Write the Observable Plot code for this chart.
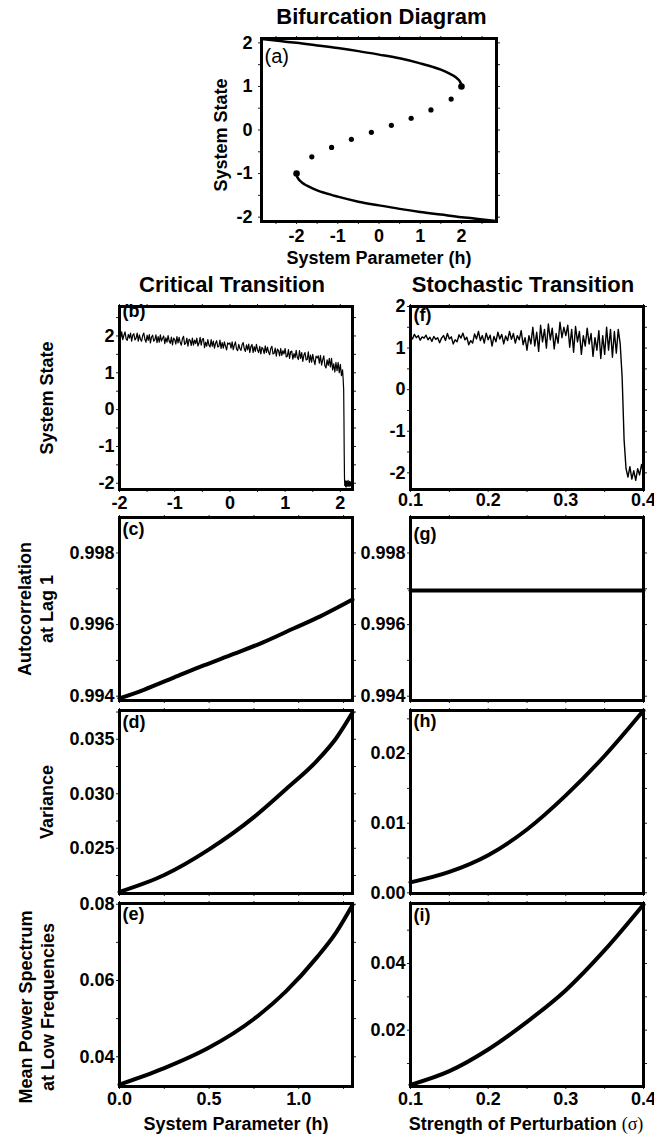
<!DOCTYPE html>
<html>
<head>
<meta charset="utf-8">
<script src="https://cdn.jsdelivr.net/npm/d3@7"></script>
<script src="https://cdn.jsdelivr.net/npm/@observablehq/plot@0.6"></script>
<style>
  body { margin: 0; background: #fff; }
  #root { position: relative; width: 654px; height: 1137px; overflow: hidden; background: #fff;
          font-family: "Liberation Sans", Arial, sans-serif; font-weight: bold; color: #000; }
  .t { position: absolute; white-space: nowrap; line-height: 1; transform: translate(-50%, -50%); }
  .r { position: absolute; white-space: nowrap; text-align: center; line-height: 22px;
       transform: translate(-50%, -50%) rotate(-90deg); }
  .plotbox { position: absolute; }
  .plotbox svg { max-width: none !important; display: block; }
</style>
</head>
<body>
<div id="root"></div>
<script>
// ---------------- DATA ----------------
// (a) bifurcation diagram: system parameter h vs system state
const aUpperH = [-2.85, -2.4, -2.0, -1.5, -1.0, -0.5, 0, 0.5, 1.0, 1.3, 1.5, 1.7, 1.8, 1.9, 1.97, 1.99, 2.0];
const aUpperS = [2.09, 2.04, 2.0, 1.94, 1.88, 1.81, 1.73, 1.645, 1.53, 1.45, 1.385, 1.30, 1.25, 1.18, 1.10, 1.06, 1.0];
const aLowerH = [-2.0, -1.99, -1.97, -1.9, -1.8, -1.7, -1.5, -1.3, -1.0, -0.5, 0, 0.5, 1.0, 1.5, 2.0, 2.4, 2.85];
const aLowerS = [-1.0, -1.06, -1.10, -1.18, -1.25, -1.30, -1.385, -1.45, -1.53, -1.645, -1.73, -1.81, -1.88, -1.94, -2.0, -2.04, -2.09];
const aMidH = [-1.63, -1.15, -0.67, -0.185, 0.30, 0.78, 1.26, 1.75];
const aMidS = [-0.615, -0.40, -0.215, -0.054, 0.108, 0.27, 0.46, 0.71];

// (b) critical transition time series (sampled every 0.02 in h from -2)
const bStartH = -2, bStepH = 0.02;
const bState = [
  2.08,1.94,2.11,1.90,2.02,2.11,1.92,1.88,2.04,1.94,
  2.08,1.86,2.02,2.06,1.89,1.94,2.08,1.86,2.03,1.91,
  1.86,2.01,2.08,1.91,1.83,2.02,1.88,2.04,1.81,1.97,
  2.02,1.86,1.90,2.03,1.82,1.98,1.83,2.03,1.86,1.94,
  2.00,1.79,1.95,1.83,2.01,1.86,1.80,1.97,1.76,1.94,
  1.90,1.78,1.98,1.81,1.96,1.82,1.75,1.93,1.99,1.77,
  1.80,1.94,1.72,1.91,1.88,1.74,1.94,1.75,1.89,1.79,
  1.94,1.73,1.80,1.96,1.75,1.91,1.93,1.68,1.83,1.72,
  1.90,1.75,1.70,1.90,1.72,1.86,1.67,1.80,1.87,1.70,
  1.72,1.89,1.66,1.82,1.67,1.84,1.72,1.62,1.81,1.78,
  1.81,1.67,1.84,1.63,1.75,1.84,1.64,1.60,1.77,1.66,
  1.61,1.76,1.82,1.65,1.58,1.76,1.62,1.78,1.55,1.71,
  1.77,1.55,1.71,1.58,1.77,1.62,1.55,1.72,1.51,1.69,
  1.65,1.52,1.73,1.55,1.70,1.56,1.49,1.66,1.72,1.51,
  1.53,1.67,1.45,1.64,1.60,1.46,1.66,1.47,1.60,1.51,
  1.66,1.43,1.45,1.63,1.39,1.57,1.59,1.37,1.52,1.41,
  1.61,1.42,1.36,1.60,1.39,1.55,1.31,1.48,1.55,1.35,
  1.36,1.57,1.28,1.48,1.29,1.50,1.34,1.22,1.45,1.40,
  1.46,1.26,1.47,1.21,1.35,1.46,1.19,1.13,1.35,1.20,
  1.39,1.16,1.39,1.08,1.24,1.02,1.28,1.06,1.28,1.00,
  1.23,0.92,1.08
];
const bTailH = [2.05, 2.06, 2.065, 2.07, 2.075, 2.08, 2.087, 2.094, 2.10, 2.107, 2.114, 2.12, 2.127, 2.134, 2.14, 2.147, 2.154, 2.16, 2.167, 2.174, 2.18, 2.187, 2.194, 2.20, 2.207, 2.214, 2.22];
const bTailS = [0.85, 0.55, -0.20, -1.20, -1.85, -2.06, -1.93, -2.09, -1.96, -2.10, -1.94, -2.05, -1.97, -2.08, -1.92, -2.06, -1.99, -2.09, -1.95, -2.04, -1.96, -2.07, -1.98, -2.05, -1.95, -2.03, -1.99];

// (f) stochastic transition time series (sampled every 0.0025 in sigma from 0.1)
const fStart = 0.1, fStep = 0.0025;
const fState = [
  1.28,1.22,1.33,1.25,1.30,1.19,1.27,1.24,1.31,1.20,
  1.26,1.16,1.28,1.21,1.25,1.13,1.24,1.30,1.18,1.35,
  1.22,1.27,1.10,1.20,1.15,1.32,1.24,1.36,1.20,1.26,
  1.08,1.18,1.12,1.34,1.22,1.40,1.18,1.30,1.12,1.36,
  1.20,1.31,1.05,1.28,1.15,1.38,1.22,1.33,1.10,1.29,
  1.18,1.40,1.21,1.35,1.12,1.30,1.20,1.42,1.08,1.25,
  0.95,1.30,1.10,1.50,1.05,1.38,0.92,1.55,1.15,1.45,
  1.00,1.58,1.20,1.48,0.98,1.35,1.12,1.62,1.25,1.50,
  1.30,1.55,1.02,1.45,0.90,1.52,1.15,1.40,0.85,1.30,
  1.05,1.48,1.10,1.35,0.80,1.25,0.95,1.42,0.75,1.30,
  0.85,1.50,0.95,1.45,0.78,1.40,0.88,1.45,1.10,0.30,
  -1.20,-1.90,-2.10,-1.85,-2.15,-1.95,-2.18,-1.90,-2.05,-1.80,
  -2.00
];

// (c)(d)(e) indicators vs system parameter h
const cH = [0, 0.136, 0.303, 0.470, 0.637, 0.804, 0.971, 1.12, 1.3];
const cAC = [0.99394, 0.99418, 0.99452, 0.99486, 0.99518, 0.99551, 0.99589, 0.99623, 0.99670];
const dH = [0, 0.25, 0.5, 0.75, 0.93, 1.1, 1.21, 1.3];
const dVar = [0.0210, 0.02255, 0.0249, 0.02786, 0.03044, 0.0330, 0.03512, 0.03745];
const eH = [0, 0.25, 0.5, 0.75, 0.93, 1.1, 1.21, 1.3];
const ePow = [0.0327, 0.0370, 0.0424, 0.0499, 0.0572, 0.0660, 0.0727, 0.0798];

// (g)(h)(i) indicators vs strength of perturbation sigma
const gSigma = [0.1, 0.4];
const gAC = [0.99695, 0.99695];
const hSigma = [0.1, 0.15, 0.2, 0.25, 0.3, 0.35, 0.4];
const hVar = [0.0015, 0.0030, 0.0054, 0.0091, 0.0140, 0.0197, 0.0262];
const iSigma = [0.1, 0.15, 0.2, 0.25, 0.3, 0.35, 0.4];
const iPow = [0.0036, 0.0077, 0.0142, 0.0225, 0.0320, 0.0440, 0.0577];

// tick values
const ticksInt = [-2, -1, 0, 1, 2];
const minorHalfA = [-2.5, -2, -1.5, -1, -0.5, 0, 0.5, 1, 1.5, 2, 2.5];
const minorHalfS = [-2, -1.5, -1, -0.5, 0, 0.5, 1, 1.5, 2];
const minorHalfB = [-2, -1.5, -1, -0.5, 0, 0.5, 1, 1.5, 2, 2.5];
const ticksSigma = [0.1, 0.2, 0.3, 0.4];
const minorSigma = [0.1, 0.15, 0.2, 0.25, 0.3, 0.35, 0.4];
const ticksH = [0, 0.5, 1.0];
const minorH = [0, 0.25, 0.5, 0.75, 1.0, 1.25];
const ticksAC = [0.994, 0.996, 0.998];
const minorAC = [0.994, 0.995, 0.996, 0.997, 0.998];
const ticksVarC = [0.025, 0.030, 0.035];
const minorVarC = [0.0225, 0.025, 0.0275, 0.030, 0.0325, 0.035, 0.0375];
const ticksPowC = [0.04, 0.06, 0.08];
const minorPowC = [0.04, 0.05, 0.06, 0.07, 0.08];
const ticksVarS = [0.00, 0.01, 0.02];
const minorVarS = [0, 0.005, 0.01, 0.015, 0.02, 0.025];
const ticksPowS = [0.02, 0.04];
const minorPowS = [0.01, 0.02, 0.03, 0.04, 0.05];

// ---------------- DRAWING ----------------
const root = document.getElementById("root");
const FONT = '"Liberation Sans", Arial, sans-serif';
const zip = (xs, ys) => xs.map((x, i) => ({x, y: ys[i]}));
const fmtInt = d => String(d);

function panel(p) {
  const mL = 70, mR = 24, mT = 16, mB = 36;
  const W = p.x1 - p.x0 + mL + mR, H = p.y1 - p.y0 + mT + mB;
  const minor = (axis, anchor, ticks) =>
    axis({ticks, anchor, tickSize: 3, tickFormat: () => "", label: null, stroke: "#222", strokeWidth: 1});
  const marks = [
    minor(Plot.axisY, "left", p.yMinor), minor(Plot.axisY, "right", p.yMinor),
    minor(Plot.axisX, "bottom", p.xMinor), minor(Plot.axisX, "top", p.xMinor),
    ...p.marks,
    Plot.frame({stroke: "#000", strokeWidth: 3}),
    Plot.axisY({ticks: p.yTicks, anchor: "left", tickSize: 0, tickPadding: p.padY, tickFormat: p.yFmt,
                label: null, fontSize: 18, fontWeight: "bold"})
  ];
  if (p.xTicks) marks.push(Plot.axisX({ticks: p.xTicks, anchor: "bottom", tickSize: 0, tickPadding: p.padX,
                tickFormat: p.xFmt, label: null, fontSize: 18, fontWeight: "bold"}));
  marks.push(Plot.text([p.tag], {text: d => d, frameAnchor: "top-left", lineAnchor: "top", textAnchor: "start",
                dx: 3, dy: p.tagDy, fontSize: p.tagSize || 18, fontWeight: p.tagWeight || "bold"}));
  const svg = Plot.plot({
    width: W, height: H, marginLeft: mL, marginRight: mR, marginTop: mT, marginBottom: mB,
    x: {domain: p.xDomain}, y: {domain: p.yDomain},
    style: {background: "transparent", overflow: "visible", fontFamily: FONT, fontSize: "18px", color: "#000"},
    marks
  });
  const box = document.createElement("div");
  box.className = "plotbox";
  box.style.left = (p.x0 - mL) + "px";
  box.style.top = (p.y0 - mT) + "px";
  box.style.width = W + "px";
  box.appendChild(svg);
  root.appendChild(box);
}

const thick = (xs, ys) => Plot.line(zip(xs, ys), {x: "x", y: "y", stroke: "#000", strokeWidth: 4, curve: "monotone-x", strokeLinecap: "round"});

// (a)
const upper = zip(aUpperH, aUpperS), lower = zip(aLowerH, aLowerS);
panel({x0: 261, x1: 496, y0: 38, y1: 221, xDomain: [-2.85, 2.85], yDomain: [-2.1, 2.1],
  xTicks: ticksInt, xMinor: minorHalfA, yTicks: ticksInt, yMinor: minorHalfS, xFmt: fmtInt, yFmt: fmtInt,
  padX: 8, padY: 9, tag: "(a)", tagDy: 10, tagWeight: "normal", tagSize: 20,
  marks: [
    Plot.line(upper, {x: "x", y: "y", stroke: "#000", strokeWidth: 2.5, curve: "monotone-x", strokeLinecap: "round"}),
    Plot.line(lower, {x: "x", y: "y", stroke: "#000", strokeWidth: 2.5, curve: "monotone-x", strokeLinecap: "round"}),
    Plot.dot(zip(aMidH, aMidS), {x: "x", y: "y", r: 2.6, fill: "#000", stroke: null}),
    Plot.dot([upper[upper.length - 1], lower[0]], {x: "x", y: "y", r: 3.3, fill: "#000", stroke: null})
  ]});

// (b)
const bData = bState.map((s, i) => ({x: bStartH + i * bStepH, y: s})).concat(zip(bTailH, bTailS));
panel({x0: 119, x1: 352, y0: 306, y1: 489, xDomain: [-2, 2.22], yDomain: [-2.17, 2.8],
  xTicks: ticksInt, xMinor: minorHalfS, yTicks: ticksInt, yMinor: minorHalfB, xFmt: fmtInt, yFmt: fmtInt,
  padX: 7, padY: 5, tag: "(b)", tagDy: -2,
  marks: [Plot.line(bData, {x: "x", y: "y", stroke: "#000", strokeWidth: 1.2, clip: true})]});

// (f)
const fData = fState.map((s, i) => ({x: fStart + i * fStep, y: s}));
panel({x0: 410, x1: 643, y0: 306, y1: 489, xDomain: [0.1, 0.4], yDomain: [-2.4, 2.0],
  xTicks: ticksSigma, xMinor: minorSigma, yTicks: ticksInt, yMinor: minorHalfS, xFmt: d3.format(".1f"), yFmt: fmtInt,
  padX: 4, padY: 5, tag: "(f)", tagDy: 2,
  marks: [Plot.line(fData, {x: "x", y: "y", stroke: "#000", strokeWidth: 1.4, clip: true})]});

// (c)
panel({x0: 119, x1: 352, y0: 517, y1: 700, xDomain: [0, 1.3], yDomain: [0.99388, 0.99899],
  xMinor: minorH, yTicks: ticksAC, yMinor: minorAC, yFmt: d3.format(".3f"),
  padY: 5, tag: "(c)", tagDy: 5, marks: [thick(cH, cAC)]});

// (g)
panel({x0: 410, x1: 643, y0: 517, y1: 700, xDomain: [0.1, 0.4], yDomain: [0.99388, 0.99899],
  xMinor: minorSigma, yTicks: ticksAC, yMinor: minorAC, yFmt: d3.format(".3f"),
  padY: 5, tag: "(g)", tagDy: 10, marks: [thick(gSigma, gAC)]});

// (d)
panel({x0: 119, x1: 352, y0: 710, y1: 893, xDomain: [0, 1.3], yDomain: [0.02085, 0.03764],
  xMinor: minorH, yTicks: ticksVarC, yMinor: minorVarC, yFmt: d3.format(".3f"),
  padY: 5, tag: "(d)", tagDy: 5, marks: [thick(dH, dVar)]});

// (h)
panel({x0: 410, x1: 643, y0: 710, y1: 893, xDomain: [0.1, 0.4], yDomain: [-0.0001, 0.0262],
  xMinor: minorSigma, yTicks: ticksVarS, yMinor: minorVarS, yFmt: d3.format(".2f"),
  padY: 5, tag: "(h)", tagDy: 4, marks: [thick(hSigma, hVar)]});

// (e)
panel({x0: 119, x1: 352, y0: 903, y1: 1086, xDomain: [0, 1.3], yDomain: [0.0322, 0.0802],
  xTicks: ticksH, xMinor: minorH, yTicks: ticksPowC, yMinor: minorPowC, xFmt: d3.format(".1f"), yFmt: d3.format(".2f"),
  padX: 6, padY: 5, tag: "(e)", tagDy: 4, marks: [thick(eH, ePow)]});

// (i)
panel({x0: 410, x1: 643, y0: 903, y1: 1086, xDomain: [0.1, 0.4], yDomain: [0.0031, 0.058],
  xTicks: ticksSigma, xMinor: minorSigma, yTicks: ticksPowS, yMinor: minorPowS, xFmt: d3.format(".1f"), yFmt: d3.format(".2f"),
  padX: 6, padY: 5, tag: "(i)", tagDy: 5, marks: [thick(iSigma, iPow)]});

// ---------------- TEXT ----------------
function addText(html, x, y, size) {
  const el = document.createElement("div");
  el.className = "t";
  el.style.left = x + "px"; el.style.top = y + "px"; el.style.fontSize = size + "px";
  el.innerHTML = html;
  root.appendChild(el);
}
function addRot(lines, x, y) {
  const el = document.createElement("div");
  el.className = "r";
  el.style.left = x + "px"; el.style.top = y + "px"; el.style.fontSize = "18px";
  el.innerHTML = lines.join("<br>");
  root.appendChild(el);
}
addText("Bifurcation Diagram", 381.5, 17, 22);
addText("Critical Transition", 232, 285, 22);
addText("Stochastic Transition", 523, 285, 22);
addText("System Parameter (h)", 379, 258, 18);
addText("System Parameter (h)", 236, 1124, 18);
addText('Strength of Perturbation <span style="font-family:\'Liberation Serif\',serif;font-weight:normal">(σ)</span>', 526, 1124, 18);
addRot(["System State"], 221, 135);
addRot(["System State"], 47, 397.5);
addRot(["Autocorrelation", "at Lag 1"], 36, 608.5);
addRot(["Variance"], 47, 801.7);
addRot(["Mean Power Spectrum", "at Low Frequencies"], 36.5, 1007);
</script>
</body>
</html>
